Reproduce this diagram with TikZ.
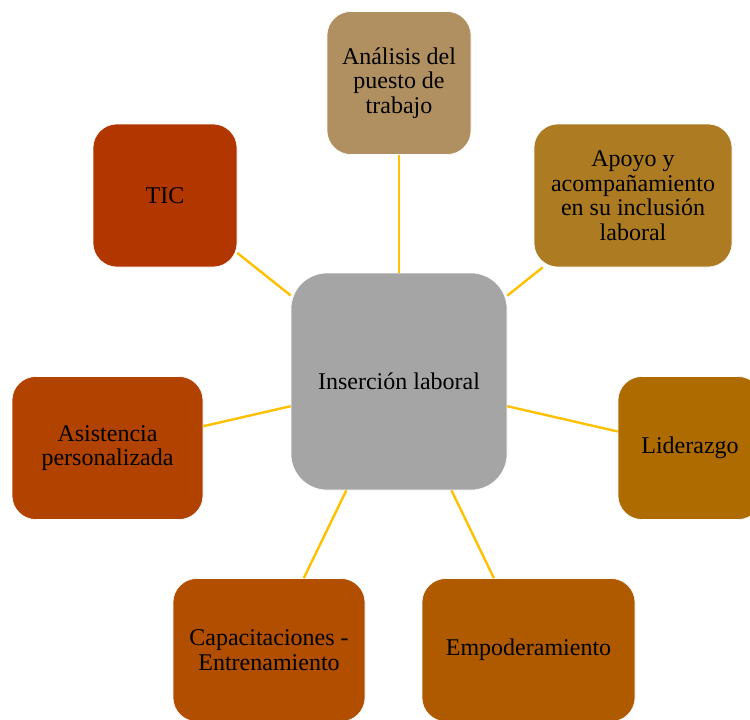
\documentclass[tikz,border=0pt]{standalone}
\usepackage{fontspec}
\setmainfont{Liberation Serif}
\usetikzlibrary{positioning}
\definecolor{hubgray}{RGB}{165,165,165}
\definecolor{linkgold}{RGB}{255,192,0}
\definecolor{tanA}{RGB}{176,144,96}
\definecolor{ochreB}{RGB}{173,123,34}
\definecolor{ochreC}{RGB}{173,107,0}
\definecolor{rustD}{RGB}{176,90,0}
\definecolor{rustE}{RGB}{178,78,0}
\definecolor{rustF}{RGB}{178,66,0}
\definecolor{rustG}{RGB}{178,54,0}

\begin{document}
\begin{tikzpicture}[x=1pt, y=-1pt,
	box/.style={rounded corners=24pt, minimum width=144pt, minimum height=143pt, inner sep=0pt, align=center, font=\fontsize{24}{24.5}\selectfont, draw=white, line width=0.6pt},
	link/.style={draw=linkgold, line width=2.4pt}]
	\useasboundingbox (0,0) rectangle (750,720);

	% Hub %
	\node [box, fill=hubgray, minimum width=216pt, minimum height=217pt, rounded corners=36pt] (hub) at (399,381.5) {Inserción laboral};
	% Spokes %
	\node [box, fill=tanA] (analisis) at (399,83) {Análisis del\\puesto de\\trabajo};
	\node [box, fill=ochreB, minimum width=198pt] (apoyo) at (633,195.5) {Apoyo y\\acompañamiento\\en su inclusión\\laboral};
	\node [box, fill=ochreC] (liderazgo) at (690,448) {Liderazgo};
	\node [box, fill=rustD, minimum width=213pt] (empoder) at (528.5,650) {Empoderamiento};
	\node [box, fill=rustE, minimum width=192pt] (capacit) at (269,650) {Capacitaciones -\\Entrenamiento};
	\node [box, fill=rustF, minimum width=191pt] (asist) at (107.5,448) {Asistencia\\personalizada};
	\node [box, fill=rustG] (tic) at (165,195.5) {TIC};
	% Links %
	\foreach \n in {analisis, apoyo, liderazgo, empoder, capacit, asist, tic} \draw [link] (hub) -- (\n);
\end{tikzpicture}
\end{document}
